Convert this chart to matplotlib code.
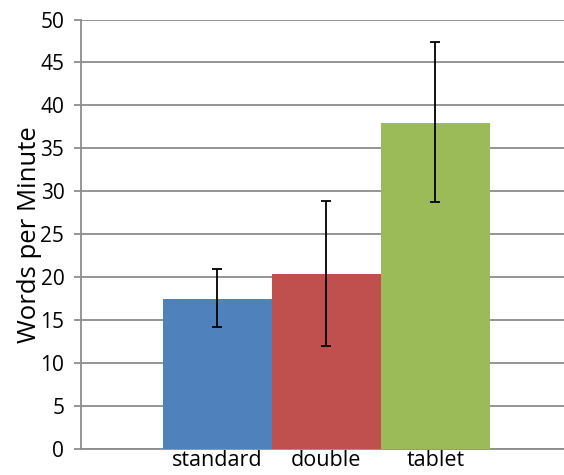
import matplotlib
matplotlib.use("Agg")
import matplotlib.pyplot as plt

plt.rcParams.update({
    "font.family": ["Open Sans", "DejaVu Sans"],
    "font.size": 15,
})

# data
conditions = ["standard", "double", "tablet"]
wpm = [17.5, 20.4, 38.0]
err_low = [14.2, 12.0, 28.7]
err_high = [20.9, 28.85, 47.35]
colors = ["#4F81BD", "#C0504D", "#9BBB59"]

GRID = "#8C8C8C"

fig = plt.figure(figsize=(5.64, 4.75), dpi=100, facecolor="white")
ax = fig.add_axes([81 / 564, 26 / 475, 1 - 81 / 564, (449 - 19.5) / 475])

x = list(range(len(conditions)))
yerr = [[w - lo for w, lo in zip(wpm, err_low)],
        [hi - w for w, hi in zip(wpm, err_high)]]

ax.bar(x, wpm, width=1.0, color=colors, zorder=3, linewidth=0)
ax.errorbar(x, wpm, yerr=yerr, fmt="none", ecolor="black",
            elinewidth=1.3, capsize=3.8, capthick=1.3, zorder=4)

ax.set_xlim(-1.252, 3.18)
ax.set_ylim(0, 50)
ax.set_yticks(range(0, 51, 5))
ax.set_xticks(x)
ax.set_xticklabels(conditions)

ax.yaxis.grid(True, color=GRID, linewidth=1.3, zorder=0)
ax.set_axisbelow(True)

for side in ("top", "right"):
    ax.spines[side].set_visible(False)
ax.spines["left"].set_color(GRID)
ax.spines["left"].set_linewidth(1.3)
ax.spines["bottom"].set_color(GRID)
ax.spines["bottom"].set_linewidth(1.3)

ax.tick_params(axis="y", length=5, width=1.3, color=GRID, pad=7, labelsize=15)
ax.tick_params(axis="x", length=0, pad=1, labelsize=15.5)

ax.set_ylabel("Words per Minute", fontsize=18.5, labelpad=-1)

fig.savefig("out.png", dpi=100, facecolor="white")
